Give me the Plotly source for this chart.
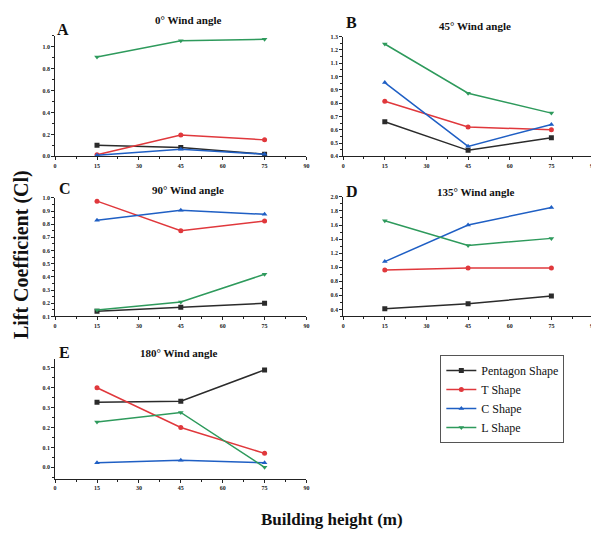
import plotly.graph_objects as go

heights = [15, 45, 75]
series_names = ["Pentagon Shape", "T Shape", "C Shape", "L Shape"]
colors = ["#2b2b2b", "#e0383c", "#1f5fc4", "#2e9a5c"]
symbols = ["square", "circle", "triangle-up", "triangle-down"]

# Lift coefficient per panel (wind angle), per shape
angle_0 = {
    "Pentagon Shape": [0.10, 0.08, 0.02],
    "T Shape": [0.015, 0.195, 0.15],
    "C Shape": [0.01, 0.065, 0.02],
    "L Shape": [0.905, 1.055, 1.067],
}
angle_45 = {
    "Pentagon Shape": [0.66, 0.445, 0.54],
    "T Shape": [0.815, 0.62, 0.60],
    "C Shape": [0.955, 0.475, 0.64],
    "L Shape": [1.245, 0.875, 0.725],
}
angle_90 = {
    "Pentagon Shape": [0.14, 0.17, 0.20],
    "T Shape": [0.975, 0.75, 0.825],
    "C Shape": [0.83, 0.905, 0.875],
    "L Shape": [0.15, 0.21, 0.42],
}
angle_135 = {
    "Pentagon Shape": [0.41, 0.48, 0.59],
    "T Shape": [0.96, 0.99, 0.99],
    "C Shape": [1.08, 1.60, 1.85],
    "L Shape": [1.66, 1.31, 1.41],
}
angle_180 = {
    "Pentagon Shape": [0.327, 0.332, 0.49],
    "T Shape": [0.40, 0.20, 0.07],
    "C Shape": [0.023, 0.035, 0.023],
    "L Shape": [0.228, 0.276, 0.0],
}

panel_letters = ["A", "B", "C", "D", "E"]
panel_titles = ["0° Wind angle", "45° Wind angle", "90° Wind angle",
                "135° Wind angle", "180° Wind angle"]
panel_data = [angle_0, angle_45, angle_90, angle_135, angle_180]

# page has an 8px body margin; figure is sized to fit the window
OFF = 8
W, H = 599 - OFF, 534 - OFF


def px(x):
    return (x - OFF) / W


def py(y):
    return 1 - (y - OFF) / H


# layout (window pixels): (x0, x1, ytop, ybottom)
boxes = [
    (53.5, 307, 33, 155),
    (344, 596, 34, 155),
    (53.5, 307, 197, 317),
    (344, 596, 196, 317),
    (53.5, 307, 360, 481),
]
title_pos = [(188, 17), (477, 23), (188, 189), (477, 191), (178, 354)]
letter_pos = [(53, 27), (345, 20), (55, 188), (345, 191), (55, 353)]
yranges = [[0, 1.1], [0.4, 1.3], [0.1, 1.0], [0.3, 2.0], [-0.057, 0.545]]
ydticks = [0.2, 0.1, 0.1, 0.2, 0.1]
ytick0 = [0.0, 0.4, 0.1, 0.4, 0.0]

FONT = "Liberation Serif, Times New Roman, serif"
fig = go.Figure()

for i in range(5):
    data = panel_data[i]
    sfx = "" if i == 0 else str(i + 1)
    for j, name in enumerate(series_names):
        fig.add_trace(go.Scatter(
            x=heights, y=data[name], mode="lines+markers", name=name,
            line=dict(color=colors[j], width=1.5),
            marker=dict(symbol=symbols[j], size=5, color=colors[j]),
            xaxis="x" + sfx, yaxis="y" + sfx,
            showlegend=(i == 0),
        ))
    x0, x1, yt, yb = boxes[i]
    axis_common = dict(
        showline=True, linecolor="#222", linewidth=1, showgrid=False, zeroline=False,
        ticks="outside", ticklen=3, tickcolor="#222",
        tickfont=dict(family=FONT, size=6, color="#222", weight="bold"),
    )
    fig.layout["xaxis" + sfx] = dict(
        domain=[px(x0), px(x1)], range=[0, 90], anchor="y" + sfx,
        tick0=0, dtick=15, minor=dict(ticks="outside", ticklen=2, dtick=7.5, tickcolor="#222"),
        **axis_common,
    )
    fig.layout["yaxis" + sfx] = dict(
        domain=[py(yb), py(yt)], range=yranges[i], anchor="x" + sfx,
        tick0=ytick0[i], dtick=ydticks[i], tickformat=".1f",
        minor=dict(ticks="outside", ticklen=2, dtick=ydticks[i] / 2, tickcolor="#222"),
        **axis_common,
    )
    tx, ty = title_pos[i]
    fig.add_annotation(
        text="<b>" + panel_titles[i] + "</b>", xref="paper", yref="paper",
        x=px(tx), y=py(ty), xanchor="center", yanchor="middle",
        showarrow=False, font=dict(family=FONT, size=11, color="#111"),
    )
    lx, ly = letter_pos[i]
    fig.add_annotation(
        text="<b>" + panel_letters[i] + "</b>", xref="paper", yref="paper",
        x=px(lx), y=py(ly), xanchor="left", yanchor="middle",
        showarrow=False, font=dict(family=FONT, size=16, color="#111"),
    )

fig.add_annotation(
    text="<b>Lift Coefficient (Cl)</b>", xref="paper", yref="paper",
    x=px(19), y=py(254), textangle=-90, showarrow=False,
    xanchor="center", yanchor="middle",
    font=dict(family=FONT, size=20, color="#111"),
)
fig.add_annotation(
    text="<b>Building height (m)</b>", xref="paper", yref="paper",
    x=px(333), y=py(522), showarrow=False,
    xanchor="center", yanchor="middle",
    font=dict(family=FONT, size=17, color="#111"),
)

fig.update_layout(
    width=W, height=H, margin=dict(l=0, r=0, t=0, b=0),
    paper_bgcolor="white", plot_bgcolor="white",
    font=dict(family=FONT, color="#111"),
    legend=dict(
        x=px(442), y=py(356), xanchor="left", yanchor="top",
        bordercolor="#555", borderwidth=1, bgcolor="white",
        font=dict(family=FONT, size=12, color="#111"),
        itemwidth=30, tracegroupgap=0,
    ),
)

fig.write_html("out.html")
